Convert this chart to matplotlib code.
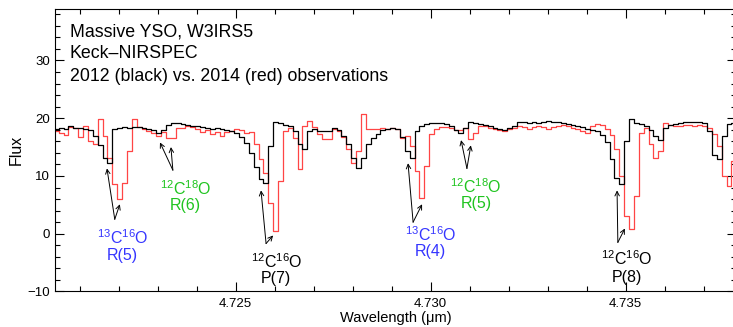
import numpy as np
import matplotlib
matplotlib.use("Agg")
import matplotlib.pyplot as plt
from matplotlib.ticker import MultipleLocator

plt.rcParams['font.family'] = ['Liberation Sans', 'DejaVu Sans']
plt.rcParams['mathtext.default'] = 'regular'

# spectrum sampling (uniform wavelength grid), fluxes
wave_start = 4.7204
wave_step = 0.000125

flux_2012 = [18.1, 18.3, 18.1, 18.6, 18.3, 18.3, 18.2, 18.0, 16.9, 15.4,
             13.1, 12.2, 18.1, 18.3, 18.4, 18.3, 18.5, 18.4, 18.3, 18.2,
             17.9, 17.4, 17.9, 18.8, 19.1, 19.1, 19.0, 18.8, 18.6, 18.6,
             18.4, 18.3, 18.2, 18.3, 18.1, 18.0, 17.7, 17.4, 16.7, 15.7,
             14.0, 11.5, 9.5, 8.8, 15.2, 19.3, 19.1, 18.8, 18.6, 17.8,
             15.5, 14.7, 17.8, 18.1, 17.8, 17.8, 17.8, 18.3, 17.9, 16.9,
             15.5, 13.1, 11.4, 13.1, 15.5, 16.6, 17.2, 17.9, 18.1, 18.3,
             18.1, 16.7, 14.3, 13.1, 17.8, 18.6, 19.0, 19.1, 19.2, 19.2,
             19.0, 18.6, 17.9, 17.4, 18.3, 19.3, 19.1, 19.0, 18.8, 18.6,
             18.3, 18.1, 17.9, 18.3, 18.6, 19.3, 19.3, 19.1, 19.3, 19.1,
             19.3, 19.5, 19.3, 19.3, 19.1, 19.0, 18.8, 18.6, 18.4, 18.1,
             17.9, 17.7, 17.1, 15.9, 12.9, 9.7, 8.6, 16.0, 19.8, 19.1,
             19.0, 18.6, 17.9, 16.9, 16.2, 18.3, 18.8, 19.0, 19.1, 19.3,
             19.3, 19.3, 19.3, 19.1, 17.8, 13.6, 12.9, 16.9, 19.0, 19.1]

flux_2014 = [17.8, 17.4, 17.1, 18.4, 18.3, 16.7, 18.6, 16.0, 15.5, 19.8,
             16.9, 13.1, 8.6, 6.0, 8.8, 14.3, 19.8, 18.4, 18.1, 17.8,
             17.4, 16.9, 17.6, 16.6, 16.6, 18.3, 18.3, 18.6, 18.4, 18.1,
             17.6, 17.9, 17.2, 17.6, 16.9, 17.6, 17.8, 18.1, 17.9, 17.4,
             17.6, 15.5, 12.9, 10.5, 5.3, 0.5, 9.1, 17.8, 18.3, 16.6,
             11.2, 18.6, 19.5, 18.4, 17.2, 16.4, 16.4, 18.1, 17.8, 16.7,
             14.7, 12.2, 14.3, 20.7, 18.1, 18.1, 18.1, 18.3, 18.1, 18.3,
             18.1, 16.6, 16.9, 15.2, 10.9, 6.2, 11.7, 17.2, 18.1, 18.4,
             18.4, 18.3, 17.9, 17.9, 18.3, 16.4, 17.4, 18.6, 18.6, 18.3,
             18.1, 17.9, 17.7, 18.1, 18.3, 18.6, 18.4, 18.1, 18.4, 18.6,
             18.4, 18.1, 18.4, 18.6, 18.8, 18.6, 18.3, 18.1, 17.8, 17.4,
             18.6, 19.0, 18.8, 18.1, 17.1, 14.7, 10.0, 3.1, 0.9, 6.6,
             17.4, 18.3, 15.5, 13.1, 14.3, 19.1, 18.8, 18.6, 18.6, 18.8,
             18.8, 18.6, 18.8, 18.6, 18.3, 17.2, 15.2, 10.0, 8.3, 12.6]

wave = wave_start + wave_step * np.arange(len(flux_2012))

# line identifications: label, isotopologue, colour, text x, text y (two rows)
labels = [r'$^{13}$C$^{16}$O', r'$^{12}$C$^{18}$O', r'$^{12}$C$^{16}$O',
          r'$^{13}$C$^{16}$O', r'$^{12}$C$^{18}$O', r'$^{12}$C$^{16}$O']
transitions = ['R(5)', 'R(6)', 'P(7)', 'R(4)', 'R(5)', 'P(8)']
label_colors = ['#3535ff', '#1fc41f', 'black', '#3535ff', '#1fc41f', 'black']
label_x = [4.72209, 4.72371, 4.72604, 4.72999, 4.73116, 4.73503]
label_y1 = [-0.6, 7.8, -4.8, -0.2, 8.2, -4.4]
label_y2 = [-3.8, 4.9, -7.7, -3.0, 5.2, -7.5]

# arrows: tail, head on 2012 line, head on 2014 line
arrow_tail = [(4.72190, 2.5), (4.72339, 11.0), (4.72578, -1.7),
              (4.72955, 2.0), (4.73093, 11.3), (4.73480, -1.5)]
arrow_black = [(4.72170, 11.3), (4.72306, 15.8), (4.72565, 7.5),
               (4.72942, 12.2), (4.73078, 16.2), (4.73478, 7.5)]
arrow_red = [(4.72203, 5.1), (4.72334, 15.0), (4.72596, -0.3),
             (4.72978, 5.1), (4.73103, 15.3), (4.73498, 0.9)]

fig = plt.figure(figsize=(7.33, 3.27), dpi=100)
ax = fig.add_axes([0.0750, 0.1086, 0.929, 0.8639])

ax.plot(wave, flux_2014, drawstyle='steps-mid', color='#ff4545', lw=0.9)
ax.plot(wave, flux_2012, drawstyle='steps-mid', color='black', lw=0.9)

for i in range(len(labels)):
    for head in (arrow_black[i], arrow_red[i]):
        ax.annotate('', xy=head, xytext=arrow_tail[i],
                    arrowprops=dict(arrowstyle='->', lw=0.7, color='black',
                                    shrinkA=0, shrinkB=0,
                                    mutation_scale=8))
    ax.text(label_x[i], label_y1[i], labels[i], color=label_colors[i],
            ha='center', va='center', fontsize=11.5)
    ax.text(label_x[i], label_y2[i], transitions[i], color=label_colors[i],
            ha='center', va='center', fontsize=11.5)

ax.text(0.022, 0.902, 'Massive YSO, W3IRS5', transform=ax.transAxes,
        fontsize=12.8, va='baseline')
ax.text(0.022, 0.825, 'Keck\u2013NIRSPEC', transform=ax.transAxes,
        fontsize=12.8, va='baseline')
ax.text(0.022, 0.745, '2012 (black) vs. 2014 (red) observations',
        transform=ax.transAxes, fontsize=12.8, va='baseline')

ax.set_xlim(4.720367, 4.737828)
ax.set_ylim(-10, 38.9)
ax.xaxis.set_major_locator(MultipleLocator(0.005))
ax.xaxis.set_minor_locator(MultipleLocator(0.001))
ax.yaxis.set_major_locator(MultipleLocator(10))
ax.yaxis.set_minor_locator(MultipleLocator(2))
ax.set_xticks([4.725, 4.730, 4.735])
ax.set_xticklabels(['4.725', '4.730', '4.735'])

ax.tick_params(which='both', direction='in', top=True, right=True,
               width=0.8, labelsize=9.5)
ax.tick_params(which='major', length=6.5)
ax.tick_params(which='minor', length=3.5)
ax.tick_params(axis='x', pad=5)
ax.tick_params(axis='y', pad=3.5)
for s in ax.spines.values():
    s.set_linewidth(0.8)

ax.set_xlabel('Wavelength (\u03bcm)', fontsize=10.5, labelpad=0.5)
ax.set_ylabel('Flux', fontsize=11.5, labelpad=3)

fig.savefig('out.png', dpi=100)
